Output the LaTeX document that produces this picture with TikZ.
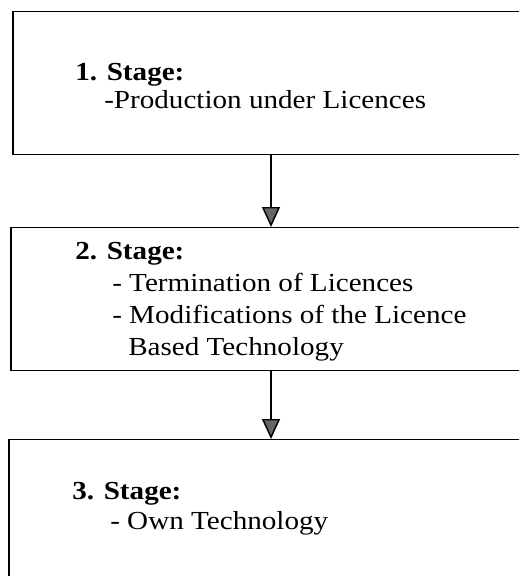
\documentclass[tikz,border=0pt]{standalone}
\usepackage{fontspec}
\setmainfont{Liberation Serif}[FakeStretch=1.12]
\usetikzlibrary{arrows.meta}
\begin{document}
\begin{tikzpicture}[x=0.75pt,y=-0.75pt,
  stagebox/.style={draw=black, line width=1.1pt, rectangle, anchor=north west, inner sep=0pt,
                   minimum width=395.25pt, minimum height=107.25pt},
  leftedge/.style={line width=2pt},
  txt/.style={anchor=base west, inner sep=0pt, font=\fontsize{19.5}{23}\selectfont},
  flow/.style={line width=1.1pt, -{Triangle[width=13.5pt,length=15pt,fill=black!60]}}]
\useasboundingbox (0,0) rectangle (519,576);
\begin{scope}
\clip (0,0) rectangle (519,576);
\node[stagebox] (b1) at (13,11) {};
\node[stagebox] (b2) at (11,227) {};
\node[stagebox] (b3) at (9,439) {};
\draw[leftedge] (b1.north west) -- (b1.south west);
\draw[leftedge] (b2.north west) -- (b2.south west);
\draw[leftedge] (b3.north west) -- (b3.south west);
\end{scope}
\coordinate (ax) at (271,0);
\draw[flow] (b1.south -| ax) -- (b2.north -| ax);
\draw[flow] (b2.south -| ax) -- (b3.north -| ax);

\node[txt] (t1a) at (75,80) {\textbf{1. Stage:}};
\node[txt] (t1b) at (104,108) {-Production under Licences};

\node[txt] (t2a) at (75,259) {\textbf{2. Stage:}};
\node[txt] (t2b) at (112,291) {- Termination of Licences};
\node[txt] (t2c) at (112,323) {- Modifications of the Licence};
\node[txt] (t2d) at (128,355) {Based Technology};

\node[txt] (t3a) at (72,499) {\textbf{3. Stage:}};
\node[txt] (t3b) at (110,529) {- Own Technology};
\end{tikzpicture}
\end{document}
